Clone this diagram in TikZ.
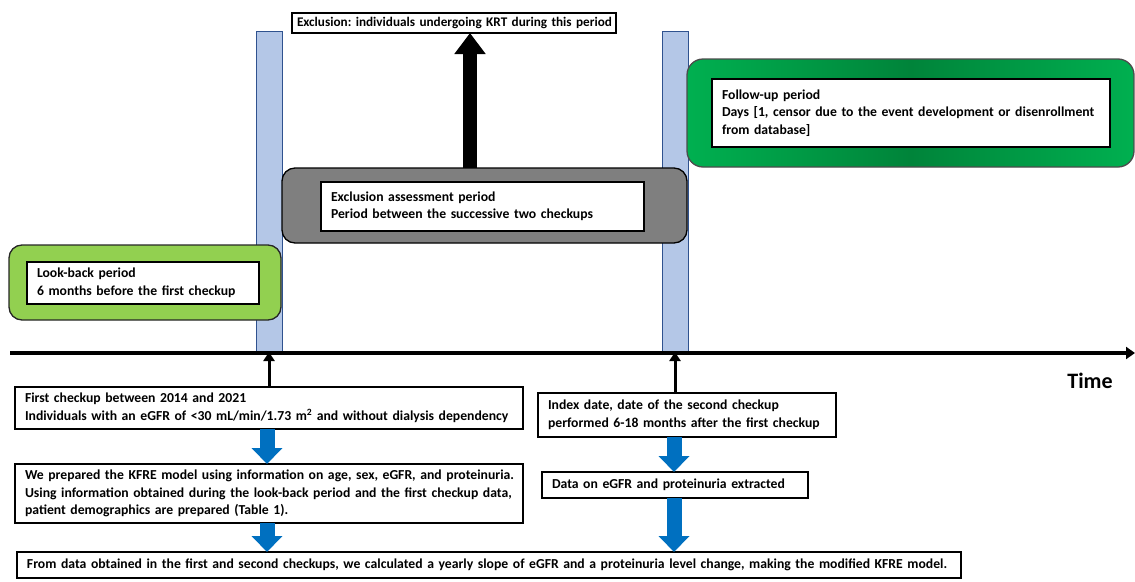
\documentclass[tikz,border=0pt]{standalone}
\usepackage{fontspec}
\setmainfont{Carlito}
\usetikzlibrary{arrows.meta}
\definecolor{barfill}{HTML}{B4C7E7}
\definecolor{barline}{HTML}{2F528F}
\definecolor{lookgreen}{HTML}{92D050}
\definecolor{fugreen}{HTML}{00B050}
\definecolor{fudark}{HTML}{00843A}
\definecolor{grayfill}{HTML}{7F7F7F}
\definecolor{bluearrow}{HTML}{0070C0}
\frenchspacing
\begin{document}
\begin{tikzpicture}[x=1pt,y=-1pt,
  font=\fontsize{13.7}{17.5}\selectfont\bfseries,
  txtbox/.style={draw=black, line width=1.3pt, fill=white, anchor=north west,
    align=left, inner ysep=0pt, inner xsep=10pt, outer sep=0pt},
  bar/.style={draw=barline, fill=barfill, line width=0.9pt, anchor=north west,
    minimum width=26pt, minimum height=321pt, inner sep=0pt, outer sep=0pt},
  roundbox/.style={draw=black!85, line width=1.3pt, rounded corners=13pt,
    anchor=north west, inner sep=0pt, outer sep=0pt},
  bigblack/.style={black, line width=14pt, -{Triangle[width=30pt,length=21pt]}},
  thinblack/.style={black, line width=3pt, -{Triangle[width=11pt,length=9pt]}},
  blockblue/.style={bluearrow, line width=15pt, -{Triangle[width=30pt,length=16pt]}}
]
\useasboundingbox (0,0) rectangle (1135,581);

% checkup bars
\node[bar] (bar1) at (256,31) {};
\node[bar] (bar2) at (662,31) {};

% look-back period
\node[roundbox, fill=lookgreen, minimum width=272pt, minimum height=75pt] (lookbg) at (9,245) {};
\node[txtbox, minimum width=232pt, minimum height=42pt, text width=212pt] (look) at (27,262)
  {\mbox{Look-back period}\\\mbox{6 months before the first checkup}};

% exclusion assessment period
\node[roundbox, fill=grayfill, draw=black, minimum width=405pt, minimum height=75pt] (gray) at (282,168) {};
\node[txtbox, minimum width=323pt, minimum height=49pt, text width=303pt] (assess) at (321,182)
  {\mbox{Exclusion assessment period}\\\mbox{Period between the successive two checkups}};

% exclusion box
\node[txtbox, inner xsep=5pt, minimum width=324pt, minimum height=20pt, text width=314pt,
  font=\fontsize{13.2}{16}\selectfont\bfseries] (excl) at (292,13)
  {\mbox{Exclusion: individuals undergoing KRT during this period}};
\draw[bigblack] (gray.north -| 470,0) -- (excl.south -| 470,0);

% follow-up period
\node[roundbox, draw=black!70, rounded corners=16pt, left color=fugreen, right color=fugreen,
  middle color=fudark, minimum width=447pt, minimum height=108pt] (fubg) at (687,59) {};
\node[txtbox, minimum width=398pt, minimum height=68pt, text width=378pt] (fu) at (712,79)
  {\mbox{Follow-up period}\\\mbox{Days [1, censor due to the event development or disenrollment}\\\mbox{from database]}};

% time axis
\coordinate (ax0) at (10,353);
\coordinate (ax1) at (1135,353);
\draw[black, line width=3.5pt, -{Triangle[width=12pt,length=9pt]}] (ax0) -- (ax1);
\node (time) at (1090,381) {\fontsize{22}{26}\selectfont Time};

% lower boxes
\node[txtbox, minimum width=508pt, minimum height=42pt, text width=488pt] (first) at (15,387)
  {\mbox{First checkup between 2014 and 2021}\\\mbox{Individuals with an eGFR of <30 mL/min/1.73 m\textsuperscript{2} and without dialysis dependency}};
\node[txtbox, minimum width=508pt, minimum height=59pt, text width=488pt] (kfre) at (15,464)
  {\mbox{We prepared the KFRE model using information on age, sex, eGFR, and proteinuria.}\\\mbox{Using information obtained during the look-back period and the first checkup data,}\\\mbox{patient demographics are prepared (Table 1).}};
\node[txtbox, minimum width=944pt, minimum height=26pt, text width=924pt] (final) at (17,552)
  {\mbox{From data obtained in the first and second checkups, we calculated a yearly slope of eGFR and a proteinuria level change, making the modified KFRE model.}};
\node[txtbox, minimum width=298pt, minimum height=44pt, text width=278pt] (index) at (538,393)
  {\mbox{Index date, date of the second checkup}\\\mbox{performed 6-18 months after the first checkup}};
\node[txtbox, minimum width=266pt, minimum height=26pt, text width=246pt] (data) at (542,472)
  {\mbox{Data on eGFR and proteinuria extracted}};

% connectors
\draw[thinblack] (first.north -| bar1.south) -- (bar1.south);
\draw[thinblack] (index.north -| bar2.south) -- (bar2.south);
\draw[blockblue] (first.south -| 267,0) -- (kfre.north -| 267,0);
\draw[blockblue] (kfre.south -| 267,0) -- (final.north -| 267,0);
\draw[blockblue] (index.south -| 674,0) -- (data.north -| 674,0);
\draw[blockblue] (data.south -| 674,0) -- (final.north -| 674,0);
\end{tikzpicture}
\end{document}
